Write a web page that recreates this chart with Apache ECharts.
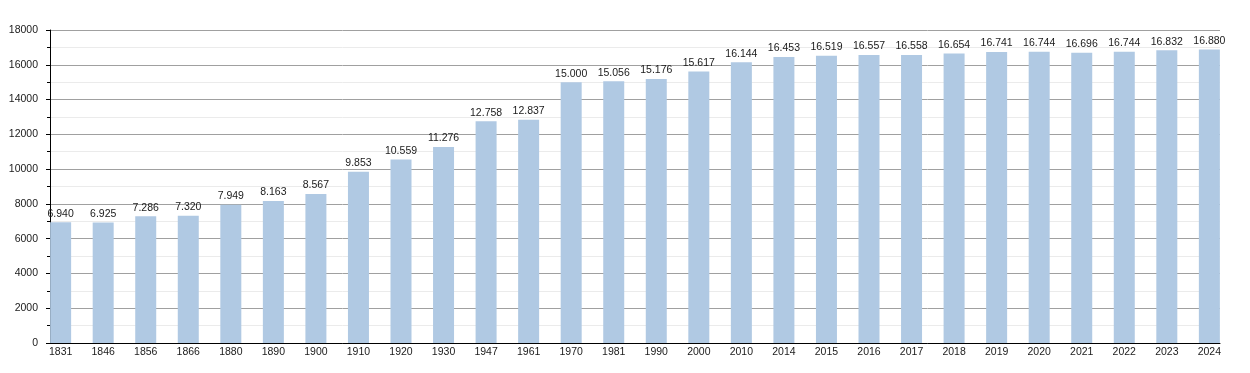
<!DOCTYPE html>
<html>
<head>
<meta charset="utf-8">
<script src="https://cdn.jsdelivr.net/npm/echarts@6/dist/echarts.min.js"></script>
<style>
html,body{margin:0;padding:0;background:#fff;}
#chart{width:1250px;height:373px;}
</style>
</head>
<body>
<div id="chart"></div>
<script>
const years = ['1831','1846','1856','1866','1880','1890','1900','1910','1920','1930','1947','1961','1970','1981','1990','2000','2010','2014','2015','2016','2017','2018','2019','2020','2021','2022','2023','2024'];
const population = [6940,6925,7286,7320,7949,8163,8567,9853,10559,11276,12758,12837,15000,15056,15176,15617,16144,16453,16519,16557,16558,16654,16741,16744,16696,16744,16832,16880];
const yTicks = [0,2000,4000,6000,8000,10000,12000,14000,16000,18000];

const idx = years.map((y,i)=>i);
const fmt = v => v >= 1000 ? Math.floor(v/1000) + '.' + String(v%1000).padStart(3,'0') : String(v);
const FONT = 'Liberation Sans, Arial, sans-serif';

const chart = echarts.init(document.getElementById('chart'), null, {renderer:'canvas'});
chart.setOption({
  animation:false,
  textStyle:{fontFamily:FONT},
  grid:{left:50,right:30,top:30,bottom:30,containLabel:false},
  xAxis:{
    type:'value',
    min:-0.25,
    max:years.length-0.75,
    axisLine:{show:true,onZero:false,lineStyle:{color:'#000',width:1}},
    axisTick:{show:false},
    splitLine:{show:false},
    axisLabel:{
      show:true,
      customValues:idx,
      formatter:v=>years[Math.round(v)],
      color:'#1a1a1a',fontSize:10.5,margin:4,
      fontFamily:FONT
    }
  },
  yAxis:{
    type:'value',
    min:yTicks[0],
    max:yTicks[yTicks.length-1],
    interval:2000,
    axisLine:{show:true,onZero:false,lineStyle:{color:'#000',width:1}},
    axisTick:{show:true,length:4,lineStyle:{color:'#000'}},
    minorTick:{show:true,splitNumber:2,length:3,lineStyle:{color:'#000'}},
    splitLine:{show:true,lineStyle:{color:'#a0a0a0',width:1}},
    minorSplitLine:{show:true,lineStyle:{color:'#ebebeb',width:1}},
    axisLabel:{color:'#1a1a1a',fontSize:10.5,margin:12,fontFamily:FONT,formatter:v=>String(v)}
  },
  series:[{
    type:'bar',
    data:population.map((v,i)=>[i,v]),
    barWidth:21,
    itemStyle:{color:'#b0c9e3'},
    label:{
      show:true,position:'top',distance:3,
      color:'#1a1a1a',fontSize:10.5,
      fontFamily:FONT,
      formatter:p=>fmt(p.value[1])
    }
  }]
});
</script>
</body>
</html>
